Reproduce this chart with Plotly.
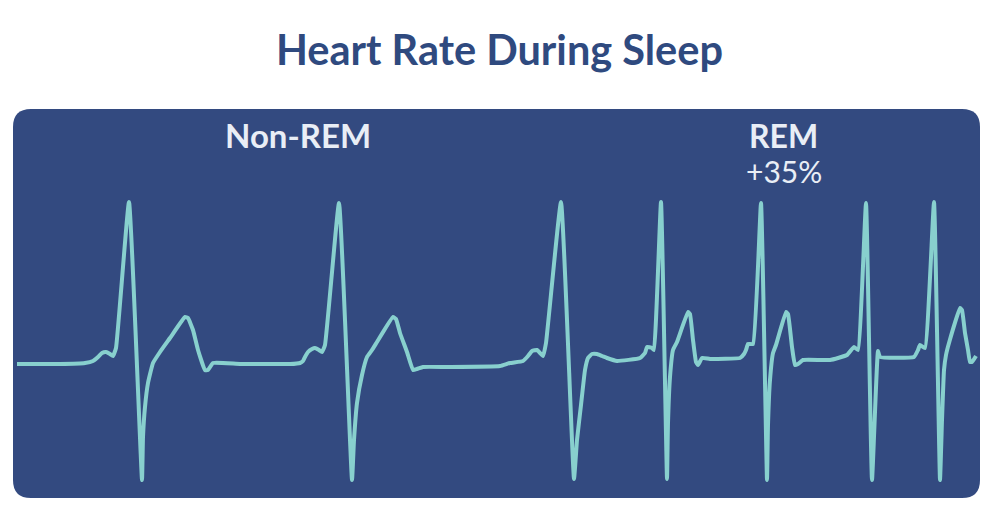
import plotly.graph_objects as go

# ECG trace: time (arbitrary units) and signal level (baseline = 0)
time = [
    17, 60, 85, 93, 98, 102, 106, 110, 113, 116, 129, 142, 143, 145, 148, 153, 160, 170, 185, 188,
    193, 198, 205, 208, 213, 240,
    290, 300, 303, 305, 308, 312, 315, 319, 322, 325, 339, 352, 354, 357, 362, 367, 372, 377, 393,
    396, 400, 407, 413, 417, 423, 450, 500,
    510, 523, 528, 532, 537, 543, 546, 561, 574, 577, 581, 585, 588, 592, 597, 602, 607, 617, 640,
    645, 647, 652, 654, 661, 667, 668, 670, 673, 677, 688, 690, 693, 696, 698, 702, 710, 740, 744,
    746, 748, 753, 761, 767, 768, 770, 773, 776, 786, 788, 792, 795, 798, 803, 830, 847, 852, 854,
    858, 866, 872, 878, 880, 914, 918, 920, 925, 934, 940, 942, 944, 946, 949, 960, 962, 965, 968,
    970, 972, 976,
]
signal = [
    1, 1, 2, 4, 8, 12, 13, 11, 9, 17, 163, -115, -72, -42, -18, 2, 13, 27, 48, 47,
    35, 15, -5, -5, 2, 1,
    1, 2, 4, 8, 13, 16, 17, 15, 13, 20, 162, -115, -75, -38, -10, 8, 15, 23, 48,
    46, 32, 13, -5, -4, -2, -2, -1,
    2, 4, 9, 14, 15, 9, 22, 163, -114, -75, -40, -5, 7, 11, 11, 9, 7, 4, 7,
    12, 18, 17, 15, 163, -114, -58, -12, 15, 23, 53, 51, 25, 3, 0, 7, 6, 7, 11,
    15, 21, 21, 162, -115, -60, -15, 12, 20, 53, 51, 18, 0, 1, 5, 5, 10, 16, 18,
    15, 162, -115, 14, 8, 8, 15, 20, 17, 163, -115, -55, -5, 10, 22, 57, 55, 32, 15,
    3, 3, 9,
]

title_text = "Heart Rate During Sleep"
phase_labels = ["Non-REM", "REM"]
rem_change = "+35%"

W, H = 997, 513
OFF = 8  # the page body adds an 8px margin, so the figure is drawn that much smaller
PANEL = "#334a80"
LINE = "#88d0ce"
TEXT_LIGHT = "#e9eef6"


def px(x):
    return (x - OFF) / (W - OFF)


def py(y):
    return 1 - (y - OFF) / (H - OFF)


# rounded panel behind the trace
x0, x1, y0, y1, r = 13, 980, 109, 498, 18
panel_path = (
    f"M {px(x0 + r)} {py(y0)} L {px(x1 - r)} {py(y0)} Q {px(x1)} {py(y0)} {px(x1)} {py(y0 + r)} "
    f"L {px(x1)} {py(y1 - r)} Q {px(x1)} {py(y1)} {px(x1 - r)} {py(y1)} "
    f"L {px(x0 + r)} {py(y1)} Q {px(x0)} {py(y1)} {px(x0)} {py(y1 - r)} "
    f"L {px(x0)} {py(y0 + r)} Q {px(x0)} {py(y0)} {px(x0 + r)} {py(y0)} Z"
)

fig = go.Figure()
fig.add_trace(go.Scatter(
    x=time, y=signal, mode="lines",
    line=dict(color=LINE, width=4, shape="spline", smoothing=0.35),
    hoverinfo="skip", showlegend=False,
))


def label(text, x, y, size, color):
    return dict(text=text, x=px(x), y=py(y), xref="paper", yref="paper",
                xanchor="center", yanchor="middle", showarrow=False,
                font=dict(size=size, color=color))


fig.update_layout(
    width=W - OFF, height=H - OFF,
    margin=dict(l=0, r=0, t=0, b=0),
    paper_bgcolor="white", plot_bgcolor="rgba(0,0,0,0)",
    xaxis=dict(range=[OFF, W], visible=False, fixedrange=True),
    yaxis=dict(range=[365 - H, 365 - OFF], visible=False, fixedrange=True),
    shapes=[dict(type="path", path=panel_path, xref="paper", yref="paper",
                 fillcolor=PANEL, line=dict(width=0), layer="below")],
    font=dict(family="Lato, sans-serif"),
    annotations=[
        label(f"<b>{title_text}</b>", 499, 49, 41.5, "#2f4a7f"),
        label(f"<b>{phase_labels[0]}</b>", 298, 135, 33, TEXT_LIGHT),
        label(f"<b>{phase_labels[1]}</b>", 783, 135, 32, TEXT_LIGHT),
        label(rem_change, 784, 171, 30, TEXT_LIGHT),
    ],
)

fig.write_html("out.html")
